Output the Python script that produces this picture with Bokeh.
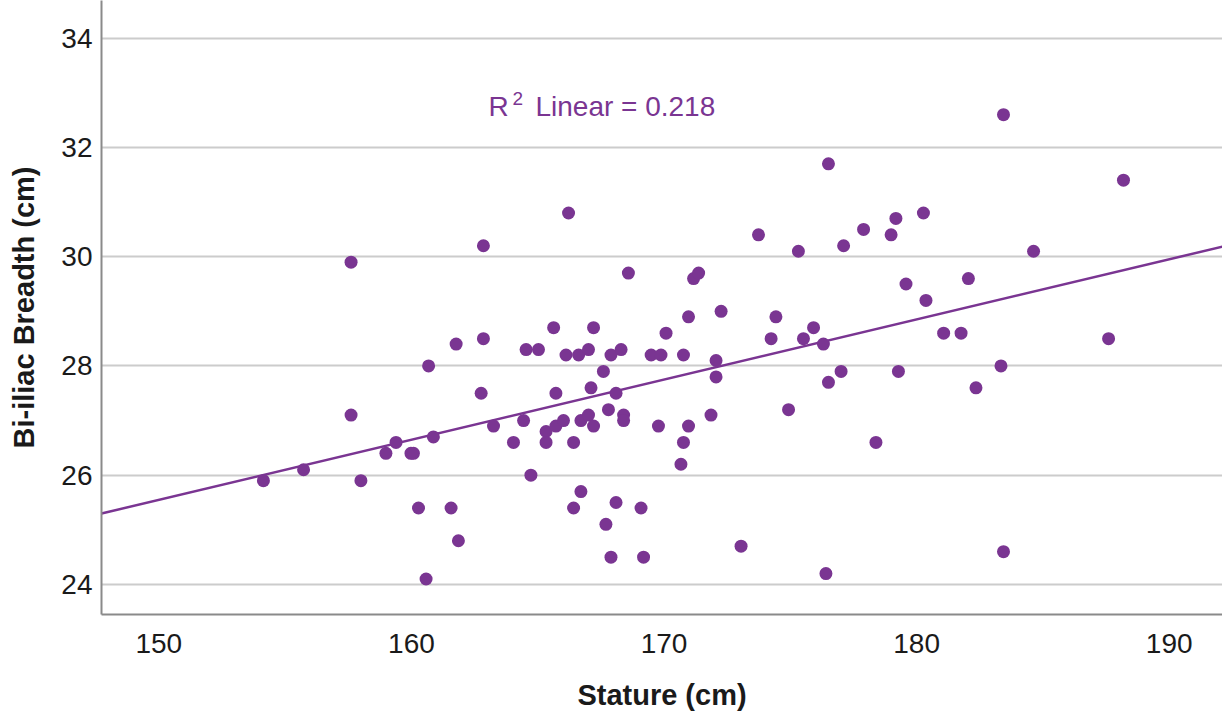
import numpy as np
from bokeh.plotting import figure
from bokeh.models import Range1d, Label, FixedTicker, ColumnDataSource
from bokeh.embed import file_html
from bokeh.resources import INLINE

stature = [154.14, 155.73, 157.61, 157.61, 158.0, 158.99, 159.39, 159.98, 160.08, 160.28,
           160.58, 160.68, 160.87, 161.57, 161.77, 161.86, 162.85, 162.85, 162.76, 163.25,
           164.04, 164.44, 164.54, 165.03, 164.73, 165.33, 165.33, 165.63, 165.72, 165.72,
           166.02, 166.12, 166.22, 166.42, 166.42, 166.62, 166.71, 166.71, 167.01, 167.01,
           167.11, 167.21, 167.21, 167.6, 167.7, 167.8, 167.9, 167.9, 168.1, 168.1,
           168.3, 168.4, 168.4, 168.59, 169.09, 169.19, 169.49, 169.78, 169.88, 170.08,
           170.67, 170.77, 170.77, 170.97, 170.97, 171.17, 171.37, 171.86, 172.06, 172.06,
           172.26, 173.05, 173.74, 174.24, 174.43, 174.93, 175.32, 175.52, 175.92, 176.31,
           176.41, 176.51, 176.51, 177.01, 177.11, 177.9, 178.39, 178.99, 179.18, 179.28,
           179.58, 180.27, 180.37, 181.07, 181.76, 182.05, 182.35, 183.34, 183.44, 183.44,
           184.63, 187.6, 188.19]
breadth = [25.9, 26.1, 29.9, 27.1, 25.9, 26.4, 26.6, 26.4, 26.4, 25.4,
           24.1, 28.0, 26.7, 25.4, 28.4, 24.8, 30.2, 28.5, 27.5, 26.9,
           26.6, 27.0, 28.3, 28.3, 26.0, 26.8, 26.6, 28.7, 27.5, 26.9,
           27.0, 28.2, 30.8, 26.6, 25.4, 28.2, 27.0, 25.7, 28.3, 27.1,
           27.6, 26.9, 28.7, 27.9, 25.1, 27.2, 28.2, 24.5, 27.5, 25.5,
           28.3, 27.1, 27.0, 29.7, 25.4, 24.5, 28.2, 26.9, 28.2, 28.6,
           26.2, 28.2, 26.6, 26.9, 28.9, 29.6, 29.7, 27.1, 28.1, 27.8,
           29.0, 24.7, 30.4, 28.5, 28.9, 27.2, 30.1, 28.5, 28.7, 28.4,
           24.2, 31.7, 27.7, 27.9, 30.2, 30.5, 26.6, 30.4, 30.7, 27.9,
           29.5, 30.8, 29.2, 28.6, 28.6, 29.6, 27.6, 28.0, 32.6, 24.6,
           30.1, 28.5, 31.4]

x_ticks = [150, 160, 170, 180, 190]
y_ticks = [24, 26, 28, 30, 32, 34]
r2_text = "Linear = 0.218"

PURPLE = "#7a3592"
FONT = "Liberation Sans"

x_range = Range1d(147.73, 192.11)
y_range = Range1d(23.45, 34.69)

p = figure(width=1222, height=715, x_range=x_range, y_range=y_range,
           output_backend="svg", toolbar_location=None,
           min_border_left=101, min_border_right=0, min_border_top=0,
           min_border_bottom=101)
p.outline_line_color = None
p.background_fill_color = "white"
p.border_fill_color = "white"

p.xgrid.grid_line_color = None
p.ygrid.grid_line_color = "#cccccc"
p.ygrid.grid_line_width = 2

for ax in (p.xaxis[0], p.yaxis[0]):
    ax.major_tick_line_color = None
    ax.minor_tick_line_color = None
    ax.axis_line_color = "#8a8a8a"
    ax.axis_line_width = 2
    ax.major_label_text_font = FONT
    ax.major_label_text_font_size = "28px"
    ax.major_label_text_color = "#1a1a1a"
    ax.axis_label_text_font = FONT
    ax.axis_label_text_font_size = "29px"
    ax.axis_label_text_font_style = "bold"
    ax.axis_label_text_color = "#1a1a1a"

p.xaxis.ticker = FixedTicker(ticks=x_ticks)
p.yaxis.ticker = FixedTicker(ticks=y_ticks)
p.xaxis.axis_label = "Stature (cm)"
p.yaxis.axis_label = "Bi-iliac Breadth (cm)"
p.xaxis.major_label_standoff = 13
p.yaxis.major_label_standoff = 3
p.xaxis.axis_label_standoff = 23
p.yaxis.axis_label_standoff = 18

# linear fit
slope, intercept = np.polyfit(stature, breadth, 1)
xl = [x_range.start, x_range.end]
yl = [intercept + slope * v for v in xl]
p.line(xl, yl, line_color=PURPLE, line_width=2.5)

src = ColumnDataSource(dict(x=stature, y=breadth))
p.scatter("x", "y", source=src, size=13, fill_color=PURPLE, line_color=PURPLE, line_width=0)

p.add_layout(Label(x=163.05, y=32.75, text="R", text_font=FONT, text_font_size="28px",
                   text_color=PURPLE, text_baseline="alphabetic", text_align="left"))
p.add_layout(Label(x=164.0, y=32.89, text="2", text_font=FONT, text_font_size="19px",
                   text_color=PURPLE, text_baseline="alphabetic", text_align="left"))
p.add_layout(Label(x=164.91, y=32.75, text=r2_text, text_font=FONT, text_font_size="28px",
                   text_color=PURPLE, text_baseline="alphabetic", text_align="left"))

open("out.html", "w").write(file_html(p, INLINE))
